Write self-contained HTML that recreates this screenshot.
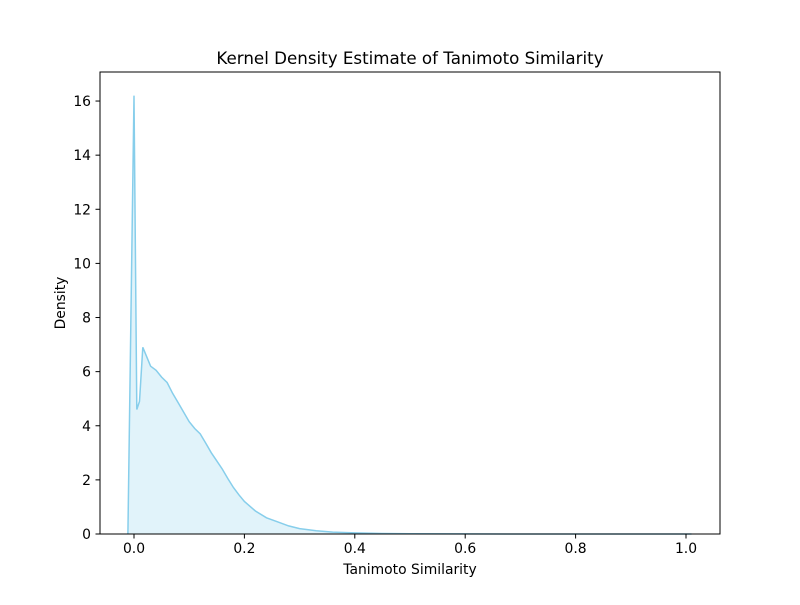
<!DOCTYPE html>
<html><head><meta charset="utf-8"><style>
body{margin:0;background:#fff}
svg text{font-family:"DejaVu Sans","Liberation Sans",sans-serif;fill:#000}
</style></head><body>
<svg id="chart" width="800" height="600">
<rect width="800" height="600" fill="#fff"/>
<text x="410" y="64" font-size="16.7" text-anchor="middle">Kernel Density Estimate of Tanimoto Similarity</text>
<text x="410" y="574" font-size="13.9" text-anchor="middle">Tanimoto Similarity</text>
<text transform="translate(65,303) rotate(-90)" font-size="13.9" text-anchor="middle">Density</text>
<g id="marks"></g>
<g id="axes"></g>
<rect x="100" y="72" width="620" height="462" fill="none" stroke="#000" stroke-width="1"/>
</svg>
<script>
const xs=[-0.011,0,0.005,0.01,0.016,0.03,0.04,0.05,0.06,0.07,0.08,0.09,0.10,0.11,0.12,0.13,0.14,0.15,0.16,0.17,0.18,0.19,0.2,0.22,0.24,0.26,0.28,0.3,0.33,0.36,0.4,0.45,0.5,0.6,0.8,1.0,1.01];
const density=[0,16.2,4.6,4.9,6.9,6.2,6.05,5.8,5.6,5.2,4.85,4.5,4.15,3.9,3.7,3.35,3.0,2.7,2.4,2.05,1.72,1.45,1.2,0.85,0.6,0.45,0.3,0.2,0.12,0.07,0.04,0.02,0.01,0.003,0.001,0.0,0];
const xTicks=[0,0.2,0.4,0.6,0.8,1.0];
const xTickLabels=["0.0","0.2","0.4","0.6","0.8","1.0"];
const yTicks=[0,2,4,6,8,10,12,14,16];
const ns="http://www.w3.org/2000/svg";
const X=v=>134+v*552;
const Y=v=>534-v*27.06;
const marks=document.getElementById('marks'),axes=document.getElementById('axes');
let pts=xs.map((x,i)=>X(x).toFixed(1)+","+Y(density[i]).toFixed(1)).join(" ");
const area=document.createElementNS(ns,'polygon');
area.setAttribute('points',pts+" "+X(xs[xs.length-1])+","+Y(0)+" "+X(xs[0])+","+Y(0));
area.setAttribute('fill','#87ceeb');area.setAttribute('fill-opacity','0.25');


marks.appendChild(area);
const line=document.createElementNS(ns,'polyline');
line.setAttribute('points',pts);line.setAttribute('fill','none');line.setAttribute('stroke','#87ceeb');line.setAttribute('stroke-width','1.5');


marks.appendChild(line);
xTicks.forEach((t,i)=>{
 const l=document.createElementNS(ns,'line');
 l.setAttribute('x1',X(t));l.setAttribute('x2',X(t));l.setAttribute('y1',534);l.setAttribute('y2',538.5);l.setAttribute('stroke','#000');
 
 
 axes.appendChild(l);
 const tx=document.createElementNS(ns,'text');
 tx.setAttribute('x',X(t));tx.setAttribute('y',553);tx.setAttribute('font-size','13.9');tx.setAttribute('text-anchor','middle');
 tx.textContent=xTickLabels[i];
 
 
 axes.appendChild(tx);
});
yTicks.forEach(t=>{
 const l=document.createElementNS(ns,'line');
 l.setAttribute('x1',95.5);l.setAttribute('x2',100);l.setAttribute('y1',Y(t));l.setAttribute('y2',Y(t));l.setAttribute('stroke','#000');
 
 
 axes.appendChild(l);
 const tx=document.createElementNS(ns,'text');
 tx.setAttribute('x',91);tx.setAttribute('y',Y(t)+5);tx.setAttribute('font-size','13.9');tx.setAttribute('text-anchor','end');
 tx.textContent=t;
 
 
 axes.appendChild(tx);
});
</script>
</body></html>
